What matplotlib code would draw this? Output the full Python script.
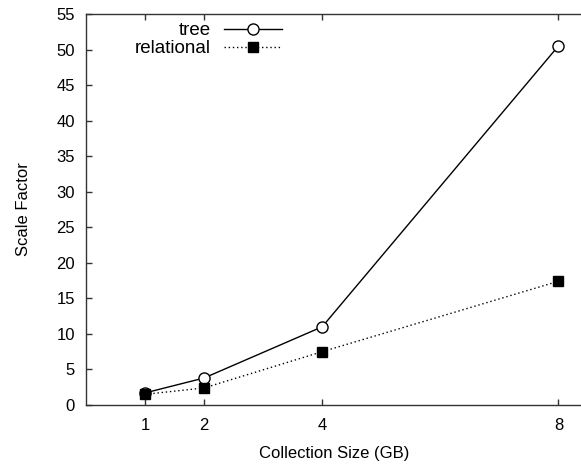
import numpy as np
import matplotlib
matplotlib.use("Agg")
import matplotlib.pyplot as plt

# data
sizes = [1, 2, 4, 8]
tree = [1.7, 3.8, 11.0, 50.5]
relational = [1.5, 2.4, 7.5, 17.4]
xticks = [1, 2, 4, 8]
yticks = np.arange(0, 56, 5)

plt.rcParams['font.family'] = ['Liberation Sans', 'DejaVu Sans']
plt.rcParams['font.size'] = 12

fig = plt.figure(figsize=(5.81, 4.66), dpi=100)
W, H = 581.0, 466.0
ax = fig.add_axes([86/W, (H-405)/H, (582-86)/W, (405-14)/H])

ax.plot(sizes, tree, color="black", linewidth=1.0, marker="o", markersize=8,
        markerfacecolor="white", markeredgecolor="black", markeredgewidth=1.0,
        label="tree", clip_on=False, zorder=3)
ax.plot(sizes, relational, color="black", linewidth=1.0, linestyle=(0, (1, 2)),
        marker="s", markersize=7, markerfacecolor="black", markeredgecolor="black",
        label="relational", clip_on=False, zorder=3)

ax.set_xlim(0, 8.4)
ax.set_ylim(0, 55)
ax.set_xticks(xticks)
ax.set_xticklabels([str(v) for v in xticks])
ax.set_yticks(yticks)
ax.tick_params(direction="in", length=4, width=1, top=True, right=False,
               colors="#333333", labelcolor="black", pad=8)
ax.tick_params(axis="x", pad=9)
for s in ["left", "bottom", "top"]:
    ax.spines[s].set_color("#333333")
    ax.spines[s].set_linewidth(1.0)
ax.spines["right"].set_visible(False)

ax.set_xlabel("Collection Size (GB)", labelpad=10)
ax.set_ylabel("Scale Factor", labelpad=18)

leg = ax.legend(loc="upper right", bbox_to_anchor=((282-86)/496, (405-22)/391),
                frameon=False, markerfirst=False, borderpad=0, borderaxespad=0,
                fontsize=13.5, handlelength=3.1, handletextpad=0.7,
                labelspacing=0.05)
for col in leg._legend_handle_box.get_children():
    col.align = "right"

fig.savefig("out.png", dpi=100)
